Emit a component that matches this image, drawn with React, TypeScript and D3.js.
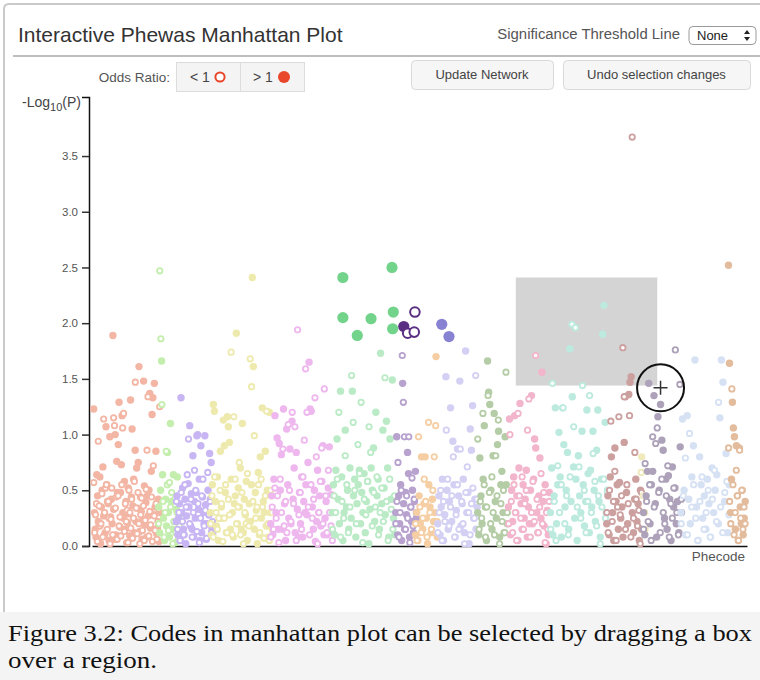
import React, { useRef, useEffect } from "react";
import * as d3 from "d3";

// phecode categories, left to right along the x axis
const categoryNames = [
  "infectious diseases", "neoplasms", "endocrine/metabolic", "hematopoietic",
  "mental disorders", "neurological", "sense organs", "circulatory system",
  "respiratory", "digestive", "genitourinary", "pregnancy complications",
  "dermatologic", "musculoskeletal", "congenital anomalies", "symptoms", "injuries & poisonings",
];
const categoryStart = [2, 101, 128, 180, 272, 366, 463, 493, 527, 588, 635, 699, 785, 837, 841, 898, 971];
const categoryEnd = [104, 134, 185, 276, 368, 463, 496, 528, 589, 635, 699, 788, 840, 846, 901, 974, 998];

// -log10(p) per code, in phecode order. "Up" = odds ratio > 1, "Down" = odds ratio < 1
const infectiousUp = [1.23, 0.3, 0.15, 0.08, 0.64, 0.45, 0.22, 0.18, 0.62, 0.02, 0.35, 0.5, 0.71, 0.27, 0.1, 0.12, 1.07, 0.55, 0.4, 0.38, 0.05, 0.98, 0.26, 0.42, 0.2, 1.89, 0.33, 0.06, 1.0, 0.1, 0.76, 0.48, 0.91, 1.29, 0.17, 0.48, 0.73, 1.17, 0.3, 0.25, 0.58, 0.15, 0.4, 0.03, 0.21, 0.52, 0.29, 0.09, 1.31, 0.44, 1.05, 0.36, 0.6, 0.12, 0.86, 0.22, 0.7, 0.34, 0.75, 1.61, 0.13, 0.44, 0.31, 0.06, 0.24, 1.48, 0.54, 0.19, 0.39, 0.08, 0.45, 0.27, 0.5, 1.37, 0.16, 0.67, 1.18, 1.33, 0.28, 1.46, 0.35, 0.85, 0.11, 0.16, 0.42, 0.04, 0.3];
const infectiousDown = [0.57, 0.12, 0.28, 0.38, 0.04, 0.94, 0.36, 0.18, 0.2, 0.47, 0.08, 1.14, 0.3, 0.52, 0.55, 0.15, 0.4, 0.25, 0.02, 0.24, 0.52, 0.1, 1.15, 1.08, 0.34, 0.44, 0.06, 0.45, 0.18, 0.26, 0.09, 0.55, 1.06, 1.19, 0.13, 0.38, 0.22, 0.32, 0.03, 0.5, 0.3, 0.16, 0.42, 0.07, 0.25, 0.58, 1.47, 0.34, 0.11, 0.48, 0.2, 0.02, 0.28, 0.43, 0.14, 0.36, 0.05, 0.23, 0.51, 0.86, 1.34, 0.09, 0.31, 0.19, 0.44, 0.04, 0.72, 0.27, 0.14, 0.38, 0.06, 0.22, 0.33, 1.25];
const neoplasmsUp = [0.35, 0.12, 0.5, 1.66, 0.64, 0.25, 0.05, 0.42, 0.18, 0.84, 0.3, 0.08, 1.1, 0.4, 0.15, 0.64, 0.22, 0.03, 0.33, 0.62, 0.1, 0.27];
const neoplasmsDown = [0.2, 2.47, 1.86, 1.27, 0.4, 0.08, 0.3, 0.85, 0.55, 0.14, 0.57, 0.35, 0.48, 0.02, 0.22, 0.42, 0.12, 0.3, 0.05, 0.18];
const endocrineUp = [0.22, 0.45, 0.1, 0.25, 0.38, 0.05, 1.33, 0.3, 0.52, 0.15, 0.1, 0.42, 0.02, 0.27, 0.35, 0.56, 0.35, 1.08, 0.18, 0.47, 0.15, 0.81, 0.08, 0.4, 0.25, 0.48, 0.99, 1.0, 0.33, 0.6, 0.05, 0.9, 0.12, 0.44, 0.3, 0.2, 0.99, 0.37, 0.06, 0.2, 0.5, 0.28, 0.83, 0.42, 0.75, 0.16, 0.12];
const endocrineDown = [0.4, 0.15, 0.3, 0.05, 0.48, 0.22, 0.1, 0.55, 0.35, 0.64, 0.96, 0.2, 0.42, 0.08, 0.3, 0.68, 0.5, 0.13, 0.38, 0.03, 0.25, 0.45, 0.6, 0.18, 0.32, 0.07, 0.66, 0.28, 0.4, 0.12, 0.22];
const hematopoieticUp = [0.3, 0.1, 0.55, 1.27, 1.21, 0.4, 0.18, 0.62, 0.05, 0.25, 0.85, 0.35, 0.25, 1.13, 0.9, 0.48, 0.12, 1.16, 1.07, 0.93, 0.15, 0.6, 0.3, 0.08, 0.38, 0.45, 1.91, 0.2, 0.52, 0.35, 0.7, 0.15, 1.1, 0.12, 0.42, 0.28, 0.58, 0.05, 0.22, 0.38, 0.22, 0.55, 2.41, 1.61, 0.15, 0.48, 0.32, 0.02, 0.66, 0.1, 0.8, 0.25, 1.24, 0.4, 0.3, 0.85, 0.18, 0.5, 0.08, 1.2, 0.3, 0.45, 0.15];
const hematopoieticDown = [0.2, 0.45, 0.08, 0.62, 0.3, 0.15, 0.25, 0.5, 0.38, 0.04, 0.25, 0.55, 0.12, 0.42, 0.28, 1.74, 0.1, 1.16, 0.6, 0.2, 0.35, 0.75, 0.1, 0.48, 0.02, 0.3, 0.2, 0.65, 0.18, 1.68, 1.43, 0.4, 0.99, 0.25, 0.35, 0.55, 0.12, 0.6, 0.35, 0.07, 0.45, 1.21, 0.2, 0.05, 0.5, 0.3];
const mentalUp = [0.2, 0.45, 0.1, 0.6, 1.17, 0.3, 0.97, 0.15, 0.92, 0.5, 0.82, 0.15, 1.23, 0.38, 0.05, 1.05, 0.55, 0.25, 0.87, 0.2, 1.12, 0.42, 0.7, 0.12, 0.84, 0.33, 0.08, 0.48, 0.2, 0.62, 0.08, 0.4, 0.3, 0.55, 0.28, 0.75, 1.65, 1.23, 1.21, 0.35, 0.15, 0.5, 0.04, 0.22, 0.68, 0.3, 0.45, 0.18, 0.58, 0.9, 0.1, 0.25, 0.4, 0.1, 0.52, 0.89, 0.3, 0.46, 0.12];
const mentalDown = [0.08, 0.35, 0.15, 0.52, 0.25, 0.45, 0.03, 0.6, 0.3, 0.87, 0.18, 0.4, 0.12, 1.09, 0.5, 0.22, 1.2, 0.38, 1.07, 0.05, 1.94, 0.28, 0.48, 0.15, 0.62, 0.95, 1.59, 1.2, 0.35, 0.1, 0.55, 0.25, 0.42, 1.33, 0.8, 0.02, 0.3, 0.58, 0.88, 0.2, 1.41, 0.45, 0.12, 0.68, 0.3, 0.18, 0.05];
const neurologicalUp = [0.3, 0.55, 0.1, 0.68, 0.96, 0.42, 0.2, 1.39, 0.62, 0.05, 0.3, 1.04, 0.35, 0.5, 0.15, 0.7, 0.25, 1.39, 0.45, 0.6, 0.08, 0.38, 0.55, 0.68, 0.2, 0.48, 0.3, 0.65, 0.12, 0.4, 0.58, 0.02, 0.33, 0.7, 0.5, 0.88, 0.22, 1.2, 0.45, 0.6, 0.15, 1.73, 0.38, 1.04, 0.52, 0.28, 1.12, 0.7, 0.08, 0.96, 0.42, 1.49, 0.25, 0.1];
const neurologicalDown = [0.15, 0.45, 0.3, 0.6, 1.2, 0.08, 0.4, 0.25, 0.81, 0.55, 0.12, 0.35, 1.53, 1.11, 0.5, 0.2, 0.91, 0.65, 1.29, 0.03, 0.42, 0.28, 0.58, 1.07, 0.84, 0.18, 0.48, 0.35, 0.62, 0.1, 0.3, 0.52, 0.22, 1.51, 0.4, 0.05, 0.6, 0.33, 0.15, 0.45];
const senseUp = [0.3, 0.98, 0.1, 0.45, 0.2, 0.55, 0.05, 1.46, 0.38, 0.15, 0.48, 0.28, 0.84, 0.65, 0.08, 0.35, 0.22, 0.5, 0.12, 0.4, 0.67, 0.25];
const senseDown = [0.2, 0.4, 0.75, 0.08, 0.3, 0.5, 1.71, 1.29, 0.98, 0.15, 0.45, 0.25, 0.98, 0.03, 0.35, 0.61, 0.18, 0.42, 0.1, 0.3];
const circulatoryUp = [0.1, 0.3, 0.05, 0.45, 0.2, 0.8, 0.15, 0.38, 0.8, 0.25, 0.02, 0.55, 0.35, 0.12, 0.42, 0.22, 0.3, 1.7, 0.08];
const circulatoryDown = [0.2, 0.05, 0.98, 0.35, 0.12, 0.25, 0.6, 0.4, 0.08, 1.11, 0.3, 0.15, 0.5, 0.8, 1.08, 0.22];
const respiratoryUp = [0.2, 0.45, 0.1, 0.35, 0.6, 0.05, 0.28, 1.52, 0.5, 0.15, 0.4, 1.24, 0.22, 0.94, 0.55, 0.08, 0.32, 0.87, 0.45, 1.48, 0.18, 0.38, 0.6, 0.12, 1.75, 0.3, 0.48, 0.02, 1.05, 0.86, 1.26, 0.25, 0.42, 0.15, 0.35];
const respiratoryDown = [0.12, 0.3, 0.5, 0.05, 0.4, 0.22, 1.04, 0.6, 0.18, 0.35, 0.45, 0.8, 0.08, 0.28, 0.55, 0.15, 0.87, 0.4, 0.2, 0.02, 0.48, 0.71, 0.3, 0.1, 0.38, 0.52, 0.25, 1.53, 0.42];
const digestiveUp = [0.3, 0.1, 0.79, 0.45, 0.2, 0.6, 1.08, 0.35, 0.05, 1.66, 1.38, 1.27, 0.5, 0.15, 0.81, 1.19, 0.4, 0.25, 0.91, 1.03, 0.08, 0.55, 0.67, 0.3, 0.12, 0.98, 0.55, 0.2];
const digestiveDown = [0.96, 0.15, 0.4, 0.25, 1.19, 0.55, 0.08, 0.35, 1.35, 0.48, 0.2, 0.62, 0.3, 0.1, 0.81, 0.45, 1.13, 0.02, 0.38, 0.22, 0.5, 0.12, 1.56, 0.3];
const genitourinaryUp = [0.35, 1.14, 0.1, 0.5, 0.22, 0.62, 1.17, 0.3, 0.45, 0.05, 0.7, 1.28, 0.38, 0.15, 0.55, 0.25, 0.42, 0.68, 0.08, 0.35, 0.2, 0.5, 1.35, 0.2, 0.6, 0.96, 0.88, 0.3, 0.12, 0.45, 0.79, 0.25, 1.56, 0.4, 0.18, 0.55, 0.02, 0.32, 0.1, 0.48];
const genitourinaryDown = [0.2, 1.0, 0.4, 0.12, 0.55, 0.3, 0.05, 1.19, 0.45, 0.25, 0.62, 0.15, 0.38, 0.5, 1.04, 1.32, 0.08, 0.3, 0.58, 0.22, 1.71, 0.42, 0.12, 0.35, 0.65, 0.2, 0.48, 0.03, 0.3, 0.15, 0.4];
const pregnancyUp = [0.3, 0.7, 0.1, 0.45, 1.24, 0.2, 0.55, 1.02, 0.62, 0.08, 1.24, 0.91, 0.35, 0.5, 0.84, 0.15, 1.77, 0.4, 1.34, 0.71, 0.25, 0.6, 0.05, 0.81, 0.45, 0.3, 1.03, 0.55, 0.18, 0.4, 1.22, 0.65, 0.12, 0.68, 0.35, 1.03, 0.5, 0.22, 0.86, 1.22, 0.4, 0.08, 0.6, 1.9, 2.16, 1.11, 0.3, 0.5];
const pregnancyDown = [0.15, 1.46, 0.4, 0.05, 0.72, 0.3, 0.55, 1.24, 0.2, 0.45, 0.1, 0.62, 1.99, 1.07, 1.96, 0.35, 0.71, 0.25, 1.44, 0.5, 0.12, 0.4, 1.35, 0.3, 0.83, 0.58, 0.18, 0.45, 0.02, 0.35, 0.6, 0.25, 0.48];
const dermatologicUp = [0.2, 0.45, 0.1, 0.62, 0.8, 0.3, 0.05, 0.88, 0.4, 0.55, 0.15, 0.57, 0.25, 0.35, 0.08, 0.93, 1.34, 0.48, 0.2, 1.36, 1.47, 1.52, 0.3, 0.12, 0.42, 0.6, 0.22, 0.38, 0.05, 0.5, 0.15];
const dermatologicDown = [0.3, 0.12, 0.5, 1.12, 0.22, 0.4, 0.67, 0.05, 0.35, 1.16, 0.28, 0.45, 1.78, 1.34, 0.15, 0.55, 0.38, 1.17, 0.08, 3.67, 0.25, 0.84, 0.42, 0.18, 0.32, 0.02, 0.48];
const musculoskeletalUp = [0.8, 0.3];
const musculoskeletalDown = [0.66, 0.45, 0.15];
const congenitalUp = [0.3, 0.1, 0.45, 0.67, 1.46, 0.2, 0.55, 0.67, 1.35, 0.38, 0.08, 1.16, 0.5, 1.27, 0.95, 0.86, 0.25, 0.6, 0.15, 0.63, 0.42, 0.05, 0.71, 0.35, 0.52, 0.2, 0.4, 0.12, 0.89, 0.3];
const congenitalDown = [0.15, 0.74, 0.4, 0.22, 0.55, 0.05, 0.98, 0.35, 0.92, 1.06, 0.48, 0.12, 0.6, 0.3, 0.2, 0.45, 0.72, 0.08, 0.38, 0.25, 0.52, 1.76, 0.3, 0.1, 1.45, 0.42];
const symptomsUp = [0.3, 1.14, 0.5, 0.1, 1.17, 0.42, 0.2, 0.62, 0.9, 1.67, 0.35, 0.05, 0.8, 0.55, 0.25, 0.45, 0.15, 0.6, 0.38, 0.08, 0.7, 0.3, 0.5, 0.64, 0.2, 1.15, 1.67, 1.47, 0.4, 0.83, 0.12, 0.55];
const symptomsDown = [0.2, 0.45, 0.79, 0.1, 1.01, 0.35, 0.55, 0.25, 0.05, 0.4, 0.62, 0.15, 0.3, 0.5, 0.08, 0.42, 0.68, 0.22, 1.29, 0.35, 0.12, 0.48, 0.58, 0.28];
const injuriesUp = [2.52, 1.64, 0.3, 0.6, 1.29, 1.06, 0.98, 0.15, 0.9, 0.45, 0.05, 0.88, 0.35, 0.2, 0.5, 0.1, 0.25, 0.4];
const injuriesDown = [0.88, 0.4, 0.2, 1.41, 0.55, 0.1, 0.3, 0.68, 0.45, 0.05, 0.86, 0.25, 0.5, 0.15, 0.35, 0.2];

const oddsAbove = [infectiousUp, neoplasmsUp, endocrineUp, hematopoieticUp, mentalUp, neurologicalUp, senseUp, circulatoryUp, respiratoryUp, digestiveUp, genitourinaryUp, pregnancyUp, dermatologicUp, musculoskeletalUp, congenitalUp, symptomsUp, injuriesUp];
const oddsBelow = [infectiousDown, neoplasmsDown, endocrineDown, hematopoieticDown, mentalDown, neurologicalDown, senseDown, circulatoryDown, respiratoryDown, digestiveDown, genitourinaryDown, pregnancyDown, dermatologicDown, musculoskeletalDown, congenitalDown, symptomsDown, injuriesDown];

// codes currently selected in the network (phecode position, -log10 p, category index, OR > 1?)
const selectedPhecode = [383, 458, 383, 426, 460, 405, 459, 476, 493, 482, 492, 534, 545];
const selectedLogP = [2.41, 2.5, 2.05, 2.04, 2.1, 1.89, 1.95, 1.97, 2.1, 1.91, 1.92, 1.99, 1.88];
const selectedCategory = [5, 5, 5, 5, 5, 5, 5, 6, 6, 6, 6, 8, 8];
const selectedAbove = [true, true, true, true, true, true, true, true, false, false, false, true, true];

// brush being dragged: phecode range and -log10 p range, plus cursor position
const brushPhecode = [647, 863];
const brushLogP = [1.44, 2.41];
const cursorAt = [868, 1.42];

const yTicks = [0, 0.5, 1, 1.5, 2, 2.5, 3, 3.5];

const categoryColors = [
  "#f3b6a5", "#c4eeae", "#c8b5f3", "#eeeaae", "#eeb8ee", "#baebc6", "#b8a2ce", "#f6cea4", "#d4d0f4",
  "#b5cda6", "#f2b5cb", "#bdeade", "#cda0a0", "#efe9bc", "#ada2b9", "#d6e2f4", "#e3bc9d",
];
const selectedColors: Record<number, string> = { 5: "#72d38b", 6: "#5b2f82", 8: "#8882d2" };

const SANS = "'Liberation Sans', Arial, sans-serif";
const RED = "#e8472b";

const ManhattanPlot = () => {
  const svgRef = useRef<SVGSVGElement>(null);

  useEffect(() => {
    const svg = d3.select(svgRef.current);
    svg.selectAll("*").remove();

    const x = d3.scaleLinear().domain([0, 1000]).range([92, 747]);
    const y = d3.scaleLinear().domain([0, 4.03]).range([546, 97]);

    // card frame
    svg.append("path")
      .attr("d", "M4,612 L4,9 Q4,4 9,4 L760,4")
      .attr("fill", "none").attr("stroke", "#c9c9c9").attr("stroke-width", 2);
    svg.append("line").attr("x1", 13).attr("x2", 760).attr("y1", 56).attr("y2", 56)
      .attr("stroke", "#a9a9a9").attr("stroke-width", 1.5);

    svg.append("text").attr("x", 18).attr("y", 42).text("Interactive Phewas Manhattan Plot")
      .style("font-family", SANS).style("font-size", "21px").attr("fill", "#333");
    svg.append("text").attr("x", 680).attr("y", 39).attr("text-anchor", "end").text("Significance Threshold Line")
      .style("font-family", SANS).style("font-size", "14.9px").attr("fill", "#555");

    // select box
    svg.append("rect").attr("x", 689).attr("y", 26.5).attr("width", 67).attr("height", 18).attr("rx", 4)
      .attr("fill", "#fff").attr("stroke", "#9a9a9a");
    svg.append("text").attr("x", 697).attr("y", 40).text("None")
      .style("font-family", SANS).style("font-size", "13px").attr("fill", "#222");
    svg.append("path").attr("d", "M744,34 L747,30 L750,34 Z M744,37 L747,41 L750,37 Z").attr("fill", "#222");

    // odds ratio legend
    svg.append("text").attr("x", 170).attr("y", 82).attr("text-anchor", "end").text("Odds Ratio:")
      .style("font-family", SANS).style("font-size", "13.5px").attr("fill", "#555");
    svg.append("rect").attr("x", 176.5).attr("y", 62.5).attr("width", 128).attr("height", 29)
      .attr("fill", "#f4f4f4").attr("stroke", "#dcdcdc");
    svg.append("line").attr("x1", 240.5).attr("x2", 240.5).attr("y1", 62.5).attr("y2", 91.5).attr("stroke", "#dcdcdc");
    svg.append("text").attr("x", 190).attr("y", 82).text("< 1")
      .style("font-family", SANS).style("font-size", "14px").attr("fill", "#444");
    svg.append("circle").attr("cx", 220).attr("cy", 77).attr("r", 4.6)
      .attr("fill", "#fff").attr("stroke", RED).attr("stroke-width", 2);
    svg.append("text").attr("x", 253).attr("y", 82).text("> 1")
      .style("font-family", SANS).style("font-size", "14px").attr("fill", "#444");
    svg.append("circle").attr("cx", 284).attr("cy", 77).attr("r", 6).attr("fill", RED);

    // buttons
    [["Update Network", 411, 142], ["Undo selection changes", 563, 187]].forEach(([label, bx, bw]) => {
      svg.append("rect").attr("x", (bx as number) + 0.5).attr("y", 60.5).attr("width", bw as number).attr("height", 29)
        .attr("rx", 4).attr("fill", "#f6f6f6").attr("stroke", "#d9d9d9");
      svg.append("text").attr("x", (bx as number) + (bw as number) / 2).attr("y", 79).attr("text-anchor", "middle")
        .text(label as string).style("font-family", SANS).style("font-size", "13px").attr("fill", "#444");
    });

    // y axis
    const yAxis = svg.append("g").attr("transform", "translate(89,0)")
      .call(d3.axisLeft(y).tickValues(yTicks).tickFormat(d3.format(".1f")).tickSizeOuter(0).tickSize(7));
    yAxis.select(".domain").attr("stroke", "#111").attr("stroke-width", 1.5);
    yAxis.selectAll(".tick line").attr("stroke", "#333").attr("stroke-width", 1.5);
    yAxis.selectAll(".tick text").attr("fill", "#555").attr("x", -11)
      .style("font-family", SANS).style("font-size", "11.5px");

    const yLabel = svg.append("text").attr("x", 22).attr("y", 107)
      .style("font-family", SANS).style("font-size", "14px").attr("fill", "#444");
    yLabel.append("tspan").text("-Log");
    yLabel.append("tspan").text("10").attr("dy", 4).style("font-size", "11px");
    yLabel.append("tspan").text("(P)").attr("dy", -4);

    // x axis
    const xAxis = svg.append("g").attr("transform", "translate(0,546)")
      .call(d3.axisBottom(x).tickValues([]).tickSizeOuter(0));
    xAxis.select(".domain").attr("stroke", "#111").attr("stroke-width", 1.5);
    svg.append("text").attr("x", 745).attr("y", 561).attr("text-anchor", "end").text("Phecode")
      .style("font-family", SANS).style("font-size", "13.5px").attr("fill", "#555");

    // brush rectangle
    svg.append("rect")
      .attr("x", x(brushPhecode[0])).attr("y", y(brushLogP[1]))
      .attr("width", x(brushPhecode[1]) - x(brushPhecode[0]))
      .attr("height", y(brushLogP[0]) - y(brushLogP[1]))
      .attr("fill", "#d4d4d4");

    // all codes
    const points: { phecode: number; logp: number; cat: number; above: boolean }[] = [];
    categoryNames.forEach((_, c) => {
      const span = categoryEnd[c] - categoryStart[c];
      oddsAbove[c].forEach((v, i) =>
        points.push({ phecode: categoryStart[c] + ((i + 0.5) / oddsAbove[c].length) * span, logp: v, cat: c, above: true }));
      oddsBelow[c].forEach((v, i) =>
        points.push({ phecode: categoryStart[c] + ((i + 0.5) / oddsBelow[c].length) * span, logp: v, cat: c, above: false }));
    });

    svg.append("g").selectAll("circle").data(points).enter().append("circle")
      .attr("cx", (d) => x(d.phecode))
      .attr("cy", (d) => y(d.logp))
      .attr("r", (d) => (d.above ? 3.7 : 2.7))
      .attr("fill", (d) => (d.above ? categoryColors[d.cat] : "#fff"))
      .attr("stroke", (d) => (d.above ? "none" : categoryColors[d.cat]))
      .attr("stroke-width", 1.8);

    // selected codes on top
    svg.append("g").selectAll("circle").data(selectedPhecode).enter().append("circle")
      .attr("cx", (d) => x(d))
      .attr("cy", (_, i) => y(selectedLogP[i]))
      .attr("r", (_, i) => (selectedAbove[i] ? 5.6 : 4.8))
      .attr("fill", (_, i) => (selectedAbove[i] ? selectedColors[selectedCategory[i]] : "#fff"))
      .attr("stroke", (_, i) => (selectedAbove[i] ? "none" : selectedColors[selectedCategory[i]]))
      .attr("stroke-width", 2);

    // drag cursor
    const cx = x(cursorAt[0]);
    const cy = y(cursorAt[1]);
    svg.append("circle").attr("cx", cx).attr("cy", cy).attr("r", 23.5)
      .attr("fill", "none").attr("stroke", "#111").attr("stroke-width", 2);
    svg.append("path").attr("d", `M${cx - 7},${cy} H${cx + 7} M${cx},${cy - 7} V${cy + 7}`)
      .attr("stroke", "#333").attr("stroke-width", 1.5);

    // caption
    svg.append("rect").attr("x", 0).attr("y", 612).attr("width", 760).attr("height", 68).attr("fill", "#f4f4f4");
    [["Figure 3.2: Codes in manhattan plot can be selected by dragging a box", 641, 744],
     ["over a region.", 668, 149]].forEach(([line, ly, len]) => {
      svg.append("text").attr("x", 8).attr("y", ly as number).text(line as string)
        .attr("textLength", len as number).attr("lengthAdjust", "spacingAndGlyphs")
        .style("font-family", "'Liberation Serif', 'Times New Roman', serif").style("font-size", "24px")
        .attr("fill", "#111");
    });
  }, []);

  return <svg ref={svgRef} width={760} height={680} style={{ display: "block" }}></svg>;
};

const App = () => (
  <div style={{ position: "absolute", left: 0, top: 0, width: 760, height: 680, background: "#fff" }}>
    <ManhattanPlot />
  </div>
);

export default App;
